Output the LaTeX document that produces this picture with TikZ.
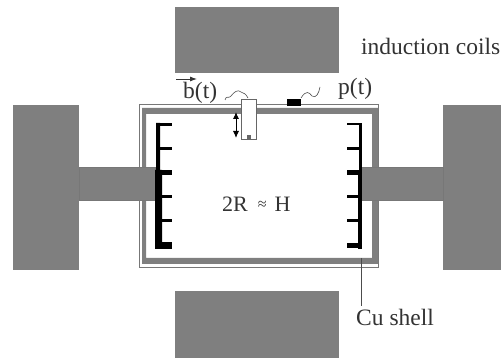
\documentclass[tikz,border=0pt]{standalone}
\usepackage{fontspec}
\setmainfont{Liberation Serif}
\usetikzlibrary{arrows.meta}
\definecolor{blk}{HTML}{7F7F7F}
\definecolor{lin}{HTML}{777777}
\tikzset{
 block/.style={fill=blk,draw=none},
 rod/.style={fill=blk,draw=lin,line width=0.6pt},
 thinshell/.style={draw=lin,line width=1pt},
 band/.style={fill=blk,draw=none},
 tooth/.style={fill=black,draw=none},
 lab/.style={font=\fontsize{23.5}{26}\selectfont,text=black!80,inner sep=0pt,anchor=base west},
 wavy/.style={draw=black!70,line width=0.6pt},
 leader/.style={draw=black!70,line width=0.7pt}
}
\begin{document}
\begin{tikzpicture}[x=1pt,y=-1pt]
\useasboundingbox (0,0) rectangle (501,358);
% coils
\fill[block] (175,7) rectangle (339,73);
\fill[block] (175,291) rectangle (339,358);
\fill[block] (13,105) rectangle (79,270);
\fill[block] (443,105) rectangle (501,270);
% shell
\draw[thinshell] (139.5,105) rectangle (378,267.5);
\fill[band,even odd rule] (142,108) rectangle (378,264) (146,114) rectangle (372,258);
% rods
\filldraw[rod] (79,167) rectangle (155,200);
\filldraw[rod] (361,167) rectangle (443,200);
% left comb
\fill[tooth] (156,123) -- (160,123) -- (160,170) -- (162,170) -- (162,249) -- (155,249) -- (155,170) -- (156,170) -- cycle;
\fill[tooth] (156,123) rectangle (172,126);
\fill[tooth] (156,147.5) rectangle (172,150);
\fill[tooth] (156,170) rectangle (172,175.5);
\fill[tooth] (156,195) rectangle (172,198);
\fill[tooth] (156,219.5) rectangle (172,222.5);
\fill[tooth] (156,242) rectangle (172,249);
% right comb
\fill[tooth] (359,123) rectangle (361.5,170);
\fill[tooth] (358,170) rectangle (362,249);
\fill[tooth] (347,123) rectangle (361,125.5);
\fill[tooth] (347,147.5) rectangle (361,150);
\fill[tooth] (347,170) rectangle (361,175.5);
\fill[tooth] (347,195) rectangle (361,198);
\fill[tooth] (347,219.5) rectangle (361,222);
\fill[tooth] (347,243) rectangle (361,248.5);
% probe
\node[draw=black!60,fill=white,line width=0.9pt,minimum width=15pt,minimum height=40pt,inner sep=0pt] (probe) at (248.5,119) {};
\fill[black!60] (246.5,135) rectangle (250.5,139);
\coordinate (gapT) at (236,112);
\coordinate (gapB) at (236,138);
\draw[{Latex[length=7pt,width=6pt]}-{Latex[length=7pt,width=6pt]},line width=0.9pt] (gapT) -- (gapB);
% probe wire
\coordinate (wA) at (225,100);
\coordinate (wE) at (248,98);
\draw[wavy] (wA) .. controls (226,95) and (229,99) .. (231,96) .. controls (234,92) and (238,89) .. (241,92) .. controls (244,93) and (246,94) .. (wE);
% pressure sensor
\fill[black] (287,99.5) rectangle (301,106);
\coordinate (wB) at (301,98);
\coordinate (wC) at (320,87);
\draw[wavy] (wB) .. controls (306,90) and (309,92) .. (312,96) .. controls (316,99) and (319,93) .. (wC);
% labels
\node[lab] (lind) at (361,55) {induction coils};
\node[lab] (lb) at (183,99) {b(t)};
\coordinate (bA) at (176,79);
\coordinate (bB) at (197,79);
\draw[-{Latex[length=7pt,width=5pt]},line width=0.9pt,black!80] (bA) -- (bB);
\node[lab] (lp) at (338,95) {p(t)};
\node[lab,font=\fontsize{22}{24}\selectfont] (lr) at (222,212) {2R\hspace{10pt}\raisebox{2pt}{\fontsize{16}{18}\selectfont ≈}\hspace{8pt}H};
\node[lab] (lcu) at (356,326) {Cu shell};
\coordinate (cuT) at (361,258);
\coordinate (cuB) at (361,306);
\draw[leader] (cuT) -- (cuB);
\end{tikzpicture}
\end{document}
